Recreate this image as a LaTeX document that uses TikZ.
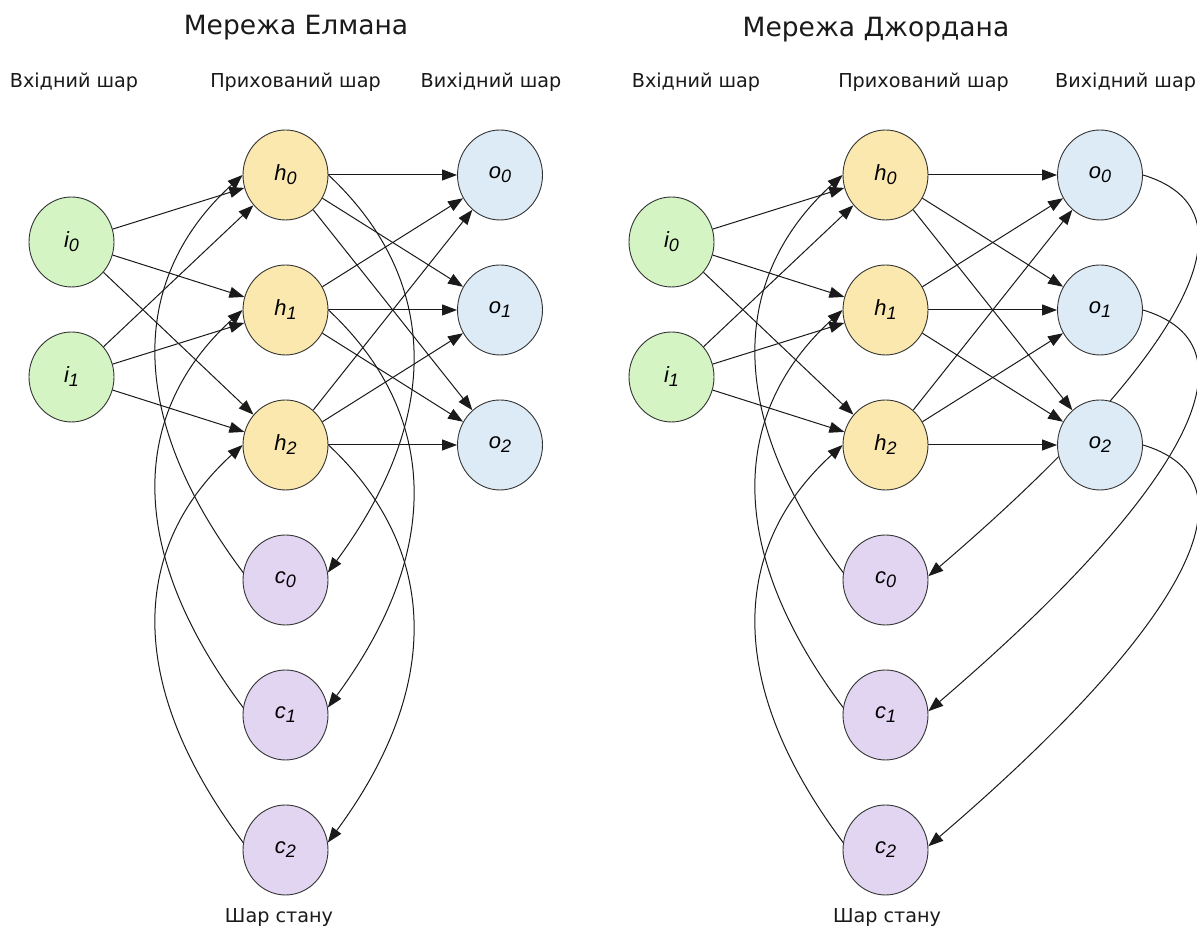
\documentclass[tikz,border=0pt]{standalone}
\usepackage{fontspec}
\setmainfont{DejaVu Sans}
\newfontfamily\unitfont{Liberation Sans}
\usetikzlibrary{arrows.meta,shapes.geometric}
\pgfdeclarelayer{bg}
\pgfsetlayers{bg,main}

\definecolor{ingreen}{HTML}{D5F4C4}
\definecolor{hidyellow}{HTML}{FAE8AE}
\definecolor{outblue}{HTML}{DDEBF7}
\definecolor{ctxpurple}{HTML}{E1D5F2}
\definecolor{rimgray}{HTML}{333333}
\definecolor{inkgray}{HTML}{1A1A1A}

% italic unit name with a lowered index
\newcommand{\unitlbl}[2]{{\unitfont\itshape\fontsize{22}{22}\selectfont #1\raisebox{-0.18em}{\fontsize{18}{18}\selectfont #2}}}

\begin{document}
\begin{tikzpicture}[x=1pt,y=1pt,
  neuron/.style={ellipse, draw=rimgray, line width=0.9pt, minimum width=85pt,
                 minimum height=90pt, inner sep=0pt, text=black},
  inunit/.style={neuron, fill=ingreen},
  hidunit/.style={neuron, fill=hidyellow},
  outunit/.style={neuron, fill=outblue},
  ctxunit/.style={neuron, fill=ctxpurple},
  netitle/.style={font=\fontsize{26.5}{26.5}\selectfont, text=inkgray, inner sep=0pt},
  layerlbl/.style={font=\fontsize{19.2}{19.2}\selectfont, text=inkgray, inner sep=0pt},
  link/.style={draw=inkgray, line width=1pt, -{Triangle[length=15pt,width=11pt]}}
]
\useasboundingbox (0,0) rectangle (1197,928);
\begin{pgfonlayer}{bg}
  \fill[white] (0,0) rectangle (1197,928);
\end{pgfonlayer}

% titles and layer captions
\node[netitle] (titleE) at (296,900) {Мережа Елмана};
\node[netitle] (titleJ) at (876,898) {Мережа Джордана};
\node[layerlbl] (capEi) at (74,846) {Вхідний шар};
\node[layerlbl] (capEh) at (295.5,846) {Прихований шар};
\node[layerlbl] (capEo) at (491,846) {Вихідний шар};
\node[layerlbl] (capJi) at (696,846) {Вхідний шар};
\node[layerlbl] (capJh) at (923.5,846) {Прихований шар};
\node[layerlbl, anchor=west] (capJo) at (1055,846) {Вихідний шар};
\node[layerlbl] (capEc) at (279,10) {Шар стану};
\node[layerlbl] (capJc) at (887,10) {Шар стану};

% units of both networks (Elman at E, Jordan at J)
\foreach \p/\dx in {E/0,J/600}{
  \node[inunit] (\p i0) at (71.5+\dx,686) {\unitlbl{i}{0}};
  \node[inunit] (\p i1) at (71.5+\dx,551) {\unitlbl{i}{1}};
  \node[hidunit] (\p h0) at (285.5+\dx,753) {\unitlbl{h}{0}};
  \node[hidunit] (\p h1) at (285.5+\dx,618) {\unitlbl{h}{1}};
  \node[hidunit] (\p h2) at (285.5+\dx,483) {\unitlbl{h}{2}};
  \node[outunit] (\p o0) at (500+\dx,753) {\unitlbl{o}{0}};
  \node[outunit] (\p o1) at (500+\dx,618) {\unitlbl{o}{1}};
  \node[outunit] (\p o2) at (500+\dx,483) {\unitlbl{o}{2}};
  \node[ctxunit] (\p c0) at (285.5+\dx,348) {\unitlbl{c}{0}};
  \node[ctxunit] (\p c1) at (285.5+\dx,213) {\unitlbl{c}{1}};
  \node[ctxunit] (\p c2) at (285.5+\dx,78) {\unitlbl{c}{2}};
}

% connections, kept behind the units
\begin{pgfonlayer}{bg}
\foreach \p in {E,J}{
  \foreach \a in {0,1}{
    \foreach \b in {0,1,2}{ \draw[link] (\p i\a) -- (\p h\b); }
  }
  \foreach \a in {0,1,2}{
    \foreach \b in {0,1,2}{ \draw[link] (\p h\a) -- (\p o\b); }
  }
  % context units feed back into the hidden layer
  \foreach \k in {0,1,2}{
    \draw[link] (\p c\k.170) .. controls +(-120,160) and +(-111,-101) .. (\p h\k.west);
  }
}
% Elman: hidden units copied into the context layer
\foreach \k in {0,1,2}{
  \draw[link] (Eh\k.east) .. controls +(108,-101) and +(118,160) .. (Ec\k.10);
}
% Jordan: output units copied into the context layer
\foreach \k in {0,1,2}{
  \draw[link] (Jo\k.east) .. controls +(133,-40) and +(228,195) .. (Jc\k.5);
}
\end{pgfonlayer}
\end{tikzpicture}
\end{document}
